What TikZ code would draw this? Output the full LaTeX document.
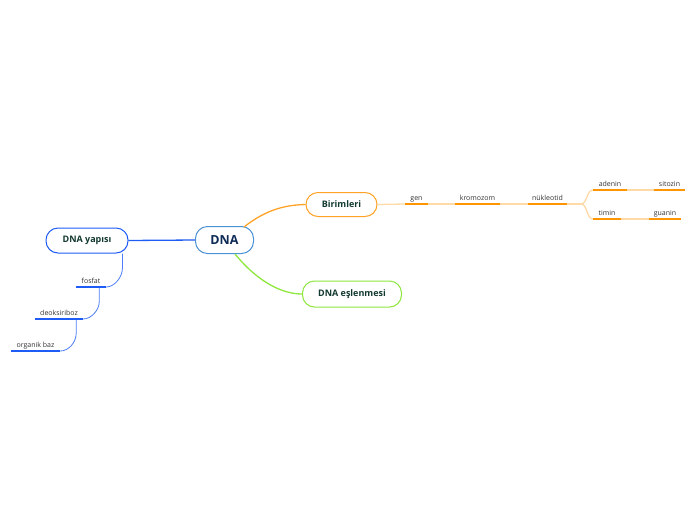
\documentclass[tikz,border=0pt]{standalone}
\usepackage{fontspec}
\setmainfont{Open Sans}
\usetikzlibrary{calc}
\definecolor{dnablue}{HTML}{4C93D6}
\definecolor{yapblue}{HTML}{1F5CF5}
\definecolor{orng}{HTML}{FFA226}
\definecolor{orngdark}{HTML}{FF9500}
\definecolor{orngpale}{HTML}{FFD9A6}
\definecolor{grn}{HTML}{8FE63D}
\definecolor{navy}{HTML}{0D2B55}
\definecolor{nodetext}{HTML}{12392F}
\definecolor{labtext}{HTML}{333333}
\tikzset{
  mainbox/.style={draw, fill=white, line width=1pt, rounded corners=12pt, inner sep=0pt, align=center},
  lab/.style={anchor=south, inner xsep=0pt, inner ysep=2pt, text height=5pt, text depth=1.5pt, font=\fontsize{7}{8}\selectfont, text=labtext},
  orul/.style={draw=orngdark, line width=1.6pt},
  orcon/.style={draw=orngpale, line width=1.3pt},
  blul/.style={draw=yapblue, line width=1.6pt},
  blcon/.style={draw=yapblue!80, line width=0.8pt}
}
\begin{document}
\begin{tikzpicture}[x=1pt,y=-1pt]
\useasboundingbox (0,0) rectangle (696,520);
% main nodes
\node[mainbox, draw=dnablue, minimum width=58pt, minimum height=27pt, text=navy, font=\bfseries\fontsize{12.5}{14}\selectfont] (dna) at (224.5,240) {DNA};
\node[mainbox, draw=orng, minimum width=71pt, minimum height=24pt, text=nodetext, font=\bfseries\fontsize{9}{11}\selectfont] (bir) at (341.5,204.5) {Birimleri};
\node[mainbox, draw=grn, minimum width=99pt, minimum height=26pt, text=nodetext, font=\bfseries\fontsize{9}{11}\selectfont] (esl) at (352,294) {DNA eşlenmesi};
\node[mainbox, draw=yapblue, minimum width=82pt, minimum height=25pt, text=nodetext, font=\bfseries\fontsize{9}{11}\selectfont] (yap) at (87,240.5) {DNA yapısı};
% main connectors
\draw[orng, line width=1.3pt] ($(dna.north east)+(-10,1)$) .. controls (268,208) and (288,205) .. (bir.west);
\draw[grn, line width=1.3pt] ($(dna.south east)+(-19,0)$) .. controls (258,282) and (282,294) .. (esl.west);
\draw[yapblue, line width=1.3pt] (yap.east) -- (dna.west);
% right branch labels
\node[lab, minimum width=23pt] (gen) at (416.5,204) {gen};
\node[lab, minimum width=45pt] (kro) at (477.5,204) {kromozom};
\node[lab, minimum width=39pt] (nuk) at (547.5,204) {nükleotid};
\node[lab, minimum width=34pt] (ade) at (610,190) {adenin};
\node[lab, minimum width=31pt] (sit) at (669.5,190) {sitozin};
\node[lab, minimum width=28pt] (tim) at (607,219) {timin};
\node[lab, minimum width=32pt] (gua) at (665,219) {guanin};
\coordinate (fork) at ($(nuk.south east)+(14,0)$);
% right connectors
\path[orcon] (bir.east) -- (gen.south west);
\path[orcon] (gen.south east) -- (kro.south west);
\path[orcon] (kro.south east) -- (nuk.south west);
\path[orcon] (nuk.south east) -- (fork);
\path[orcon] (fork) .. controls ($(fork)+(6,0)$) and ($(ade.south west)+(-6,0)$) .. (ade.south west);
\path[orcon] (fork) .. controls ($(fork)+(6,0)$) and ($(tim.south west)+(-6,0)$) .. (tim.south west);
\path[orcon] (ade.south east) -- (sit.south west);
\path[orcon] (tim.south east) -- (gua.south west);
% underlines
\foreach \n in {gen,kro,nuk,ade,sit,tim,gua}{
  \path[orul] (\n.south west) -- (\n.south east);
}
% left branch labels
\node[lab, minimum width=30pt] (fos) at (91,287) {fosfat};
\node[lab, minimum width=48pt] (deo) at (59,319) {deoksiriboz};
\node[lab, minimum width=49pt] (org) at (35.5,351) {organik baz};
% left connectors
\draw[blcon] ($(yap.south east)+(-6,0)$) -- ++(0,14) .. controls ++(0,10) and ($(fos.south east)+(8,0)$) .. (fos.south east);
\draw[blcon] ($(fos.south east)+(-7,0)$) -- ++(0,15) .. controls ++(0,8) and ($(deo.south east)+(8,0)$) .. (deo.south east);
\draw[blcon] ($(deo.south east)+(-7,0)$) -- ++(0,14) .. controls ++(0,10) and ($(org.south east)+(8,0)$) .. (org.south east);
\foreach \n in {fos,deo,org}{
  \path[blul] (\n.south west) -- (\n.south east);
}
\end{tikzpicture}
\end{document}
